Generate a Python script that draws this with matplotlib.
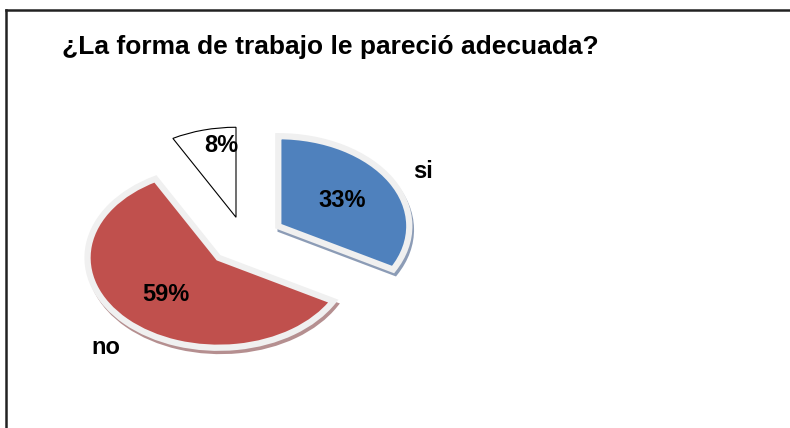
import matplotlib
matplotlib.use("Agg")
import matplotlib.pyplot as plt
from matplotlib.lines import Line2D
import numpy as np

plt.rcParams['font.family'] = ['Liberation Sans', 'DejaVu Sans']

title = "¿La forma de trabajo le pareció adecuada?"
categories = ["si", "no", ""]
values = [33, 59, 8]
colors = ["#4f81bd", "#c0504d", "#ffffff"]
shadow_colors = ["#8c9cb6", "#b58f90", "none"]
explode = [0.30, 0.28, 0.26]

fig = plt.figure(figsize=(7.9, 4.28), dpi=100)
fig.patch.set_facecolor("white")

# outer frame (extends beyond the right and bottom edges)
fig.add_artist(Line2D([6/790, 1.0], [1 - 10/428, 1 - 10/428], color="#222222", lw=1.8,
                      transform=fig.transFigure))
fig.add_artist(Line2D([6/790, 6/790], [1 - 10/428, 0.0], color="#222222", lw=1.8,
                      transform=fig.transFigure))

fig.text(62/790, 1 - 47/428, title, fontsize=19, fontweight="bold",
         ha="left", va="center", color="black")

ax = fig.add_axes([0.0773, 0.145, 0.4643, 0.5888])

# shadow layer (slightly shifted downward)
sw, _ = ax.pie(values, explode=explode, startangle=90, counterclock=False,
               colors=[c if c != "none" else "white" for c in shadow_colors],
               center=(0.015, -0.04),
               wedgeprops=dict(linewidth=4, edgecolor="none"))
for w, sc in zip(sw, shadow_colors):
    if sc == "none":
        w.set_visible(False)
    else:
        w.set_edgecolor(sc)
        w.set_zorder(1)

wedges, texts, autotexts = ax.pie(
    values, explode=explode, labels=categories, startangle=90, counterclock=False,
    colors=colors, autopct="%1.0f%%", pctdistance=0.57, labeldistance=1.2,
    wedgeprops=dict(linewidth=4.5, edgecolor="#f0f0f0"),
    textprops=dict(fontsize=17, fontweight="bold", color="black"))
for w in wedges:
    w.set_zorder(2)
# white slice: thin black outline, no bevel
wedges[2].set_edgecolor("black")
wedges[2].set_linewidth(0.8)

# place the small slice's percentage further out, near the top
w = wedges[2]
theta = np.deg2rad((w.theta1 + w.theta2) / 2)
cx, cy = w.center
autotexts[2].set_position((cx + 0.45 * np.cos(theta), cy + 0.82 * np.sin(theta)))

# "no" label sits lower than the default radial placement
w = wedges[1]
theta = np.deg2rad((w.theta1 + w.theta2) / 2)
cx, cy = w.center
texts[1].set_position((cx + 1.06 * np.cos(theta), cy + 1.41 * np.sin(theta)))

for t in list(texts) + list(autotexts):
    t.set_zorder(5)

ax.set_aspect("auto")
ax.set_xlim(-1.4, 1.4)
ax.set_ylim(-1.4, 1.4)
ax.axis("off")

fig.savefig("out.png", dpi=100, facecolor="white")
